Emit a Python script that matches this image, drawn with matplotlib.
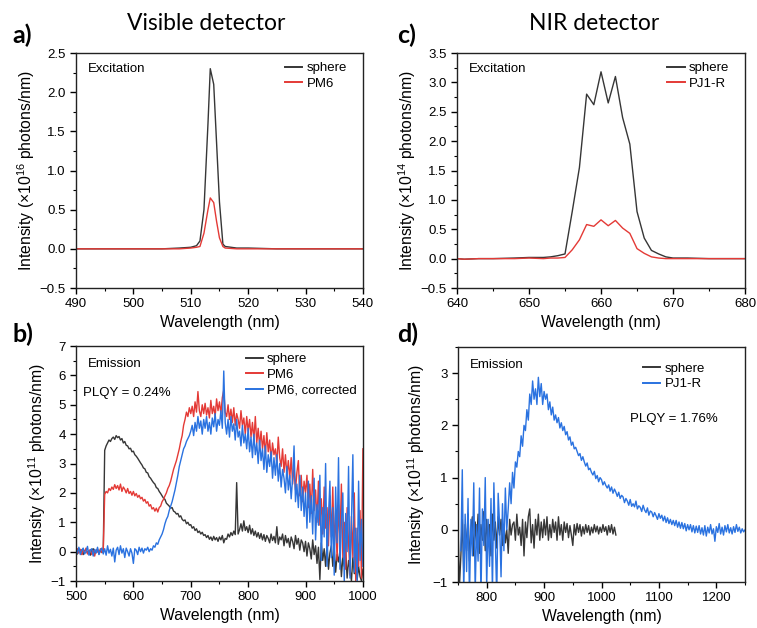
import numpy as np
import matplotlib
matplotlib.use("Agg")
import matplotlib.pyplot as plt
from matplotlib.ticker import MultipleLocator

plt.rcParams['font.family'] = ['Liberation Sans', 'DejaVu Sans']
plt.rcParams['mathtext.fontset'] = 'custom'
plt.rcParams['mathtext.rm'] = 'Liberation Sans'
plt.rcParams['mathtext.default'] = 'regular'

GRAY = '#363636'
RED = '#e43a36'
BLUE = '#2a72e0'

# a) visible detector, excitation
wl_a = [490, 495, 500, 505, 508, 510, 511, 511.6, 512.3, 513, 513.4, 514, 514.5, 515,
        515.6, 516, 518, 520, 525, 530, 535, 540]
sphere_a = [0, 0, 0, 0, 0.01, 0.02, 0.04, 0.1, 0.5, 1.6, 2.3, 2.1, 1.35, 0.6,
            0.06, 0.03, 0.01, 0.01, 0, 0, 0, 0]
pm6_a = [0, 0, 0, 0, 0, 0.01, 0.02, 0.03, 0.2, 0.5, 0.65, 0.59, 0.35, 0.14,
         0.03, 0.01, 0, 0, 0, 0, 0, 0]

# c) NIR detector, excitation
wl_c = [640, 641, 643, 645, 648, 650, 652, 653, 654, 655, 656, 657, 658, 659, 660, 661,
        662, 663, 664, 665, 666, 667, 668, 669, 670, 672, 675, 680]
sphere_c = [0, -0.01, 0, 0, 0.01, 0.02, 0.02, 0.03, 0.05, 0.08, 0.8, 1.55, 2.8, 2.62,
            3.18, 2.65, 3.1, 2.4, 1.95, 0.8, 0.35, 0.14, 0.08, 0.03, 0.01, 0.01, 0, 0]
pj1r_c = [0, -0.01, 0, 0, 0, 0.01, 0, 0.01, 0.01, 0.02, 0.15, 0.32, 0.58, 0.55,
          0.66, 0.56, 0.65, 0.52, 0.43, 0.17, 0.09, 0.03, 0.01, 0, 0, 0, 0, 0]

# b) visible detector, emission (2.5 nm steps, 500-1000, one row = 25 nm)
wl_b = np.arange(500, 1000.1, 2.5)
sphere_b = [0.05, -0.08, 0.1, -0.02, 0.06, -0.1, 0.03, 0.08, -0.05, 0.02,
            -0.12, 0.05, 0.1, -0.06, 0.0, 0.09, -0.08, 0.04, -0.03, 0.05,
            3.45, 3.6, 3.7, 3.8, 3.75, 3.85, 3.9, 3.82, 3.95, 3.88,
            3.92, 3.8, 3.85, 3.7, 3.75, 3.62, 3.6, 3.5, 3.52, 3.4,
            3.42, 3.3, 3.25, 3.18, 3.1, 3.02, 2.95, 2.85, 2.82, 2.7,
            2.68, 2.55, 2.5, 2.42, 2.35, 2.3, 2.18, 2.15, 2.05, 1.98,
            1.9, 1.82, 1.78, 1.65, 1.6, 1.55, 1.48, 1.5, 1.38, 1.35,
            1.28, 1.3, 1.18, 1.22, 1.1, 1.05, 1.08, 0.95, 1.0, 0.9,
            0.92, 0.8, 0.85, 0.72, 0.78, 0.65, 0.7, 0.6, 0.66, 0.55,
            0.58, 0.48, 0.55, 0.42, 0.5, 0.38, 0.52, 0.4, 0.48, 0.35,
            0.5, 0.4, 0.55, 0.3, 0.45, 0.42, 0.6, 0.5, 0.65, 0.55,
            0.7, 0.58, 2.35, 0.6, 0.75, 0.95, 0.7, 1.05, 0.72, 0.85,
            0.65, 0.9, 0.6, 0.78, 0.55, 0.7, 0.5, 0.65, 0.45, 0.62,
            0.4, 0.58, 0.35, 0.55, 0.45, 0.3, 0.6, 0.38, 0.52, 0.3,
            0.85, 0.25, 0.5, 0.4, 0.6, 0.2, 0.55, 0.3, 0.45, 0.15,
            0.5, 0.35, 0.1, 0.55, 0.25, 0.45, 0.05, 0.4, 0.3, 0.0,
            0.35, -0.15, 0.3, 0.1, -0.25, 0.4, -0.1, 0.2, -0.4, 0.15,
            -0.95, 0.3, -0.3, 0.1, -0.5, 0.25, -0.6, -0.05, 0.2, -0.5,
            0.1, -0.7, -0.1, -0.35, 0.05, -0.85, -0.2, -0.5, 0.0, -0.9,
            -0.3, -0.6, -1.0, -0.2, -0.75, -0.4, -0.95, -0.5, -0.85, -1.0,
            -0.6]
pm6_b = [0.02, 0.1, -0.05, 0.08, -0.1, 0.05, -0.02, 0.12, -0.08, 0.03,
         0.07, -0.1, 0.04, -0.15, 0.06, 0.0, -0.05, 0.1, -0.03, 0.05,
         1.95, 2.05, 2.0, 2.15, 2.08, 2.2, 2.12, 2.28, 2.15, 2.25,
         2.1, 2.3, 2.05, 2.2, 2.12, 2.0, 2.15, 1.98, 2.05, 1.92,
         2.05, 1.9, 1.98, 1.85, 1.92, 1.8, 1.85, 1.72, 1.78, 1.65,
         1.7, 1.55, 1.6, 1.45, 1.5, 1.38, 1.48, 1.35, 1.5, 1.55,
         1.7, 1.78, 1.9, 2.0, 2.15, 2.25, 2.4, 2.6, 2.8, 2.95,
         3.1, 3.3, 3.5, 3.75, 3.95, 4.3, 4.5, 4.75, 4.6, 4.9,
         4.7, 4.95, 4.6, 5.1, 4.75, 5.45, 4.8, 4.6, 5.0, 4.7,
         5.05, 4.65, 4.9, 4.55, 5.15, 4.7, 4.95, 4.6, 5.2, 4.8,
         5.1, 4.7, 5.25, 5.5, 4.75, 4.6, 5.0, 4.5, 4.85, 4.4,
         4.9, 4.3, 4.7, 4.5, 4.2, 4.8, 4.3, 4.55, 4.0, 4.6,
         4.1, 4.5, 3.9, 4.4, 3.8, 4.6, 3.7, 4.2, 3.6, 4.1,
         3.5, 3.95, 3.3, 4.05, 3.4, 3.8, 3.1, 3.7, 3.3, 3.5,
         3.0, 3.9, 3.2, 2.9, 3.5, 2.7, 3.3, 2.6, 3.1, 2.5,
         3.2, 2.3, 2.9, 2.1, 2.7, 3.1, 1.9, 2.6, 1.7, 2.4,
         2.0, 2.6, 1.5, 2.3, 1.3, 2.8, 1.4, 2.1, 1.0, 2.4,
         0.9, 1.8, 0.6, 2.2, 0.8, 1.5, 0.2, 1.9, 0.5, 2.2,
         0.1, 1.4, -0.3, 1.6, 0.4, 2.3, -0.2, 1.0, -0.6, 1.5,
         0.3, -0.8, 1.2, -0.2, 2.0, -1.0, 0.8, -0.5, 1.4, -0.9,
         3.5]
pm6_corr_b = [0.1, -0.05, 0.15, -0.1, 0.05, 0.12, -0.08, 0.0, 0.18, -0.12,
              0.05, 0.1, -0.15, 0.08, -0.05, 0.15, -0.1, 0.05, 0.12, -0.08,
              0.1, -0.12, 0.2, -0.05, 0.08, -0.15, 0.12, -0.35, 0.05, 0.15,
              -0.1, 0.2, -0.05, 0.1, -0.2, 0.12, 0.0, -0.15, 0.1, -0.05,
              -0.4, 0.1, 0.05, -0.1, 0.15, 0.0, 0.12, -0.05, 0.1, 0.05,
              0.15, 0.0, 0.1, 0.05, 0.2, 0.15, 0.3, 0.25, 0.4, 0.5,
              0.6, 0.75, 0.95, 1.1, 1.2, 1.4, 1.55, 1.7, 1.9, 2.1,
              2.35, 2.6, 2.9, 3.1, 3.3, 3.5, 3.6, 3.75, 3.85, 3.95,
              4.1, 4.3, 3.95, 4.4, 4.1, 4.6, 4.2, 4.45, 4.0, 4.5,
              4.2, 4.6, 4.1, 4.4, 4.0, 4.55, 4.25, 4.7, 4.1, 4.5,
              4.3, 4.8, 4.2, 6.15, 4.4, 4.0, 4.5, 3.9, 4.6, 4.1,
              4.35, 3.8, 4.5, 3.9, 4.1, 3.6, 4.3, 3.7, 4.0, 3.5,
              4.2, 3.4, 3.9, 3.2, 4.0, 3.3, 3.7, 3.0, 3.8, 3.1,
              3.5, 2.8, 3.6, 2.7, 3.3, 2.9, 3.4, 2.5, 3.2, 2.6,
              3.3, 2.4, 3.0, 2.2, 2.8, 2.5, 2.0, 2.9, 2.1, 2.6,
              1.8, 2.5, 3.6, 1.7, 2.3, 1.5, 2.6, 1.4, 2.2, 1.2,
              2.0, 0.8, 2.4, 1.0, 1.9, 0.6, 2.5, 0.4, 1.6, 0.9,
              2.6, -0.3, 1.5, 0.5, 3.0, -0.5, 1.2, 2.4, -0.2, 1.5,
              -0.8, 2.2, 0.3, 3.2, -0.6, 1.0, 2.0, -1.0, 1.3, 0.0,
              2.9, -0.9, 1.0, 3.3, -0.7, 0.8, -1.0, 2.4, -0.3, 1.1,
              -0.5]

# d) NIR detector, emission (2.5 nm steps)
wl_d_sphere = np.arange(750, 1025.1, 2.5)
sphere_d = [0.1, -1.1, -0.5, 0.2, -0.8, 0.1, -0.4, 0.3, -0.6, 0.0,
            0.25, -0.5, 0.15, -0.3, 0.3, -0.45, 0.1, -0.2, 0.35, -0.4,
            0.2, -0.3, 0.1, -0.5, 0.3, -0.2, 0.15, -0.35, 0.25, -0.1,
            0.2, -0.3, 0.1, -0.25, 0.0, -0.45, 0.2, -0.1, 0.1, 0.15,
            -0.2, 0.3, -0.1, 0.05, -0.3, 0.2, -0.5, 0.15, -0.15, 0.25,
            0.4, -0.25, 0.1, -0.35, 0.2, -0.1, 0.3, -0.2, 0.15, -0.15,
            0.2, -0.1, 0.25, -0.2, 0.1, -0.15, 0.2, -0.05, 0.15, -0.2,
            0.25, -0.1, 0.1, -0.2, 0.15, -0.05, 0.12, -0.15, 0.08, -0.1,
            -0.3, 0.1, -0.1, 0.12, -0.05, 0.1, -0.12, 0.06, -0.08, 0.1,
            -0.05, 0.08, -0.1, 0.05, -0.06, 0.1, -0.04, 0.07, -0.08, 0.05,
            -0.05, 0.1, -0.03, 0.06, -0.1, 0.08, -0.05, 0.1, -0.08, 0.05,
            -0.1]
wl_d = np.arange(755, 1250.1, 2.5)
pj1r_d = [-0.4, 1.15, -1.2, 0.3, -0.8, 0.6, -1.3, 0.2, -0.5, 0.9,
          -1.2, 0.1, -0.6, 0.8, -1.3, 0.4, -0.3, 1.0, -1.1, 0.2,
          -0.7, 0.6, -1.2, 0.9, -0.2, -1.3, 0.7, 0.1, -0.9, 0.5,
          -0.4, 0.8, 0.0, 0.4, 0.9, 0.5, 1.1, 0.8, 1.3, 1.2,
          1.5, 1.4, 1.8, 1.6, 2.0, 1.9, 2.3, 2.1, 2.6, 2.4,
          2.85, 2.5, 2.7, 2.4, 2.92, 2.55, 2.8, 2.4, 2.65, 2.5,
          2.6, 2.3, 2.45, 2.2, 2.35, 2.1, 2.2, 2.05, 2.15, 1.95,
          2.05, 1.9, 1.98, 1.82, 1.88, 1.72, 1.78, 1.62, 1.68, 1.55,
          1.58, 1.5, 1.42, 1.46, 1.33, 1.4, 1.3, 1.22, 1.28, 1.15,
          1.18, 1.1, 1.05, 1.12, 0.98, 1.04, 0.92, 1.0, 0.96, 0.86,
          0.92, 0.85, 0.8, 0.86, 0.74, 0.82, 0.7, 0.78, 0.72, 0.64,
          0.72, 0.6, 0.66, 0.63, 0.52, 0.6, 0.55, 0.47, 0.58, 0.45,
          0.5, 0.44, 0.55, 0.4, 0.46, 0.43, 0.35, 0.47, 0.38, 0.33,
          0.42, 0.28, 0.36, 0.34, 0.25, 0.33, 0.27, 0.2, 0.31, 0.22,
          0.28, 0.17, 0.26, 0.14, 0.23, 0.12, 0.2, 0.1, 0.18, 0.08,
          0.18, 0.05, 0.15, 0.03, 0.14, 0.02, 0.12, -0.02, 0.1, 0.0,
          0.1, -0.04, 0.08, -0.06, 0.07, -0.05, 0.08, -0.08, 0.04, -0.1,
          0.08, -0.12, 0.05, -0.06, 0.1, -0.08, 0.02, -0.22, 0.06, -0.05,
          0.12, -0.08, 0.05, -0.1, 0.08, -0.04, 0.1, -0.06, 0.04, -0.08,
          0.06, -0.05, 0.1, -0.03, 0.05, -0.06, 0.02, -0.04, 0.0]

ylab16 = r'Intensity ($\times$10$^{16}$ photons/nm)'
ylab14 = r'Intensity ($\times$10$^{14}$ photons/nm)'
ylab11 = r'Intensity ($\times$10$^{11}$ photons/nm)'

FS = 9.5
LFS = 11.3


def style(ax, xmaj, xmin, ymaj, ymin):
    ax.xaxis.set_major_locator(MultipleLocator(xmaj))
    ax.xaxis.set_minor_locator(MultipleLocator(xmin))
    ax.yaxis.set_major_locator(MultipleLocator(ymaj))
    ax.yaxis.set_minor_locator(MultipleLocator(ymin))
    ax.tick_params(which='major', direction='out', length=4, width=1, labelsize=FS)
    ax.tick_params(which='minor', direction='out', length=2, width=0.8)
    for s in ax.spines.values():
        s.set_linewidth(1)
        s.set_color('#222222')
    ax.set_xlabel('Wavelength (nm)', fontsize=LFS, labelpad=3)


def legend(ax, anchor):
    leg = ax.legend(loc='upper right', bbox_to_anchor=anchor, frameon=False, fontsize=FS,
                    handlelength=1.3, handletextpad=0.3, labelspacing=0.25, borderaxespad=0.3)
    for h in leg.legend_handles:
        h.set_linewidth(1.4)


fig = plt.figure(figsize=(7.57, 6.28), dpi=100)
ax_a = fig.add_axes([0.1004, 0.5414, 0.379, 0.3742])
ax_c = fig.add_axes([0.6037, 0.5414, 0.3805, 0.3742])
ax_b = fig.add_axes([0.1004, 0.0748, 0.379, 0.3742])
ax_d = fig.add_axes([0.605, 0.0732, 0.3792, 0.3742])

# a
ax_a.plot(wl_a, sphere_a, color=GRAY, lw=1, label='sphere')
ax_a.plot(wl_a, pm6_a, color=RED, lw=1, label='PM6')
ax_a.set_xlim(490, 540)
ax_a.set_ylim(-0.5, 2.5)
style(ax_a, 10, 5, 0.5, 0.25)
ax_a.set_ylabel(ylab16, fontsize=LFS, labelpad=2)
ax_a.text(0.042, 0.932, 'Excitation', transform=ax_a.transAxes, fontsize=FS, va='center')
legend(ax_a, (0.976, 1.0))

# c
ax_c.plot(wl_c, sphere_c, color=GRAY, lw=1, label='sphere')
ax_c.plot(wl_c, pj1r_c, color=RED, lw=1, label='PJ1-R')
ax_c.set_xlim(640, 680)
ax_c.set_ylim(-0.5, 3.5)
style(ax_c, 10, 5, 0.5, 0.25)
ax_c.set_ylabel(ylab14, fontsize=LFS, labelpad=2)
ax_c.text(0.042, 0.932, 'Excitation', transform=ax_c.transAxes, fontsize=FS, va='center')
legend(ax_c, (0.976, 1.0))

# b
ax_b.plot(wl_b, sphere_b, color=GRAY, lw=1.0, label='sphere')
ax_b.plot(wl_b, pm6_b, color=RED, lw=1.0, label='PM6')
ax_b.plot(wl_b, pm6_corr_b, color=BLUE, lw=1.0, label='PM6, corrected')
ax_b.set_xlim(500, 1000)
ax_b.set_ylim(-1, 7)
style(ax_b, 100, 50, 1, 0.5)
ax_b.set_ylabel(ylab11, fontsize=LFS, labelpad=2)
ax_b.text(0.042, 0.925, 'Emission', transform=ax_b.transAxes, fontsize=FS, va='center')
ax_b.text(0.025, 0.8, 'PLQY = 0.24%', transform=ax_b.transAxes, fontsize=FS, va='center')
legend(ax_b, (1.01, 1.01))

# d
ax_d.plot(wl_d_sphere, sphere_d, color=GRAY, lw=1.0, label='sphere')
ax_d.plot(wl_d, pj1r_d, color=BLUE, lw=1.0, label='PJ1-R')
ax_d.set_xlim(750, 1250)
ax_d.set_ylim(-1, 3.5)
style(ax_d, 100, 50, 1, 0.5)
ax_d.set_ylabel(ylab11, fontsize=LFS, labelpad=4)
ax_d.text(0.042, 0.925, 'Emission', transform=ax_d.transAxes, fontsize=FS, va='center')
ax_d.text(0.6, 0.695, 'PLQY = 1.76%', transform=ax_d.transAxes, fontsize=FS, va='center')
legend(ax_d, (0.892, 0.974))

fig.text(0.272, 0.962, 'Visible detector', fontsize=16.5, family=['Lato', 'DejaVu Sans'],
         ha='center', va='center')
fig.text(0.785, 0.962, 'NIR detector', fontsize=16.5, family=['Lato', 'DejaVu Sans'],
         ha='center', va='center')
for x, y, s in [(0.017, 0.944, 'a)'), (0.524, 0.944, 'c)'),
                (0.017, 0.468, 'b)'), (0.524, 0.468, 'd)')]:
    fig.text(x, y, s, fontsize=18, fontweight='bold', family=['Lato', 'DejaVu Sans'],
             va='center')

fig.savefig('out.png', dpi=100)
